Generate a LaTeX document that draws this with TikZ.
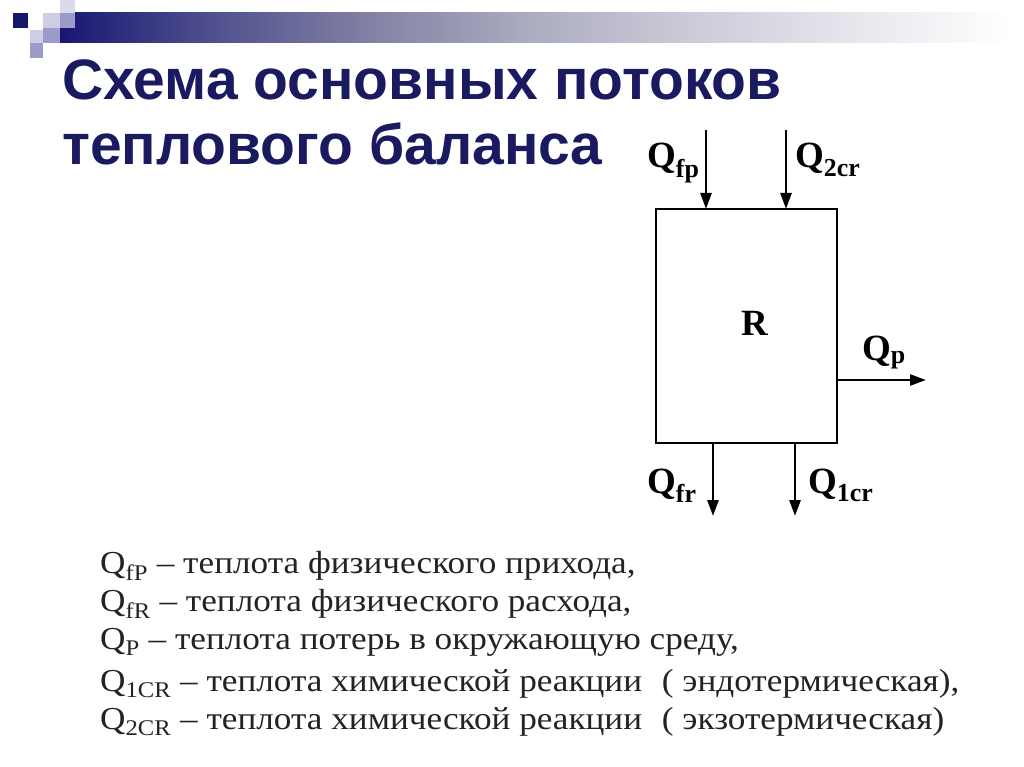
\documentclass[tikz,border=0pt]{standalone}
\usepackage{fontspec}
\setmainfont{Liberation Serif}
\newfontfamily\titlefont{Liberation Sans}
\usetikzlibrary{arrows.meta}
\definecolor{navy}{RGB}{22,22,110}
\definecolor{titleblue}{RGB}{26,26,96}
\definecolor{lav1}{RGB}{205,205,228}
\definecolor{lav2}{RGB}{155,155,200}
\definecolor{lav3}{RGB}{218,218,236}
\definecolor{legendgray}{RGB}{35,35,35}
\pgfdeclarehorizontalshading{barshade}{100bp}{
  rgb(0bp)=(0.09,0.09,0.45);
  rgb(25bp)=(0.09,0.09,0.45);
  rgb(32.5bp)=(0.30,0.30,0.55);
  rgb(41bp)=(0.50,0.50,0.64);
  rgb(50bp)=(0.68,0.68,0.76);
  rgb(60bp)=(0.82,0.82,0.87);
  rgb(69bp)=(0.93,0.93,0.95);
  rgb(75bp)=(1,1,1);
  rgb(100bp)=(1,1,1)}
\tikzset{
  flow/.style={line width=2.6pt,-{Triangle[length=16pt,width=11pt]}},
  lbl/.style={font=\fontsize{37}{40}\selectfont\bfseries, inner sep=0pt},
  legend/.style={anchor=base west, font=\fontsize{32}{36}\selectfont, text=legendgray, inner sep=0pt},
  ttl/.style={anchor=base west, font=\titlefont\bfseries\fontsize{57}{64}\selectfont, text=titleblue, inner sep=0pt}
}
\newcommand{\sbs}[1]{\textsubscript{#1}}
\newcommand{\lgx}[1]{\scalebox{1.1}[1]{#1}}
\begin{document}
\begin{tikzpicture}[x=1pt,y=-1pt]
\useasboundingbox (0,0) rectangle (1024,767);
\fill[white] (0,0) rectangle (1024,767);
% header bar
\shade[shading=barshade] (60,13) rectangle (1010,43);
% decorative squares
\fill[navy] (13,13) rectangle (28,28);
\fill[lav1] (43,13) rectangle (60,28);
\fill[lav3] (60,0) rectangle (75,13);
\fill[lav2] (60,13) rectangle (75,28);
\fill[lav1] (30,30) rectangle (43,43);
\fill[lav2] (43,28) rectangle (60,43);
\fill[lav2] (30,43) rectangle (43,58);
% title
\node[ttl] (t1) at (62,100) {Схема основных потоков};
\node[ttl] (t2) at (62,165) {теплового баланса};
% reactor box
\node[draw, line width=2.8pt, minimum width=181pt, minimum height=234pt, inner sep=0pt] (box) at (746.5,326) {};
\node[lbl] (R) at (755,323) {R};
% coordinates for arrows
\coordinate (fpTop) at (706,130);
\coordinate (crTop) at (786,130);
\coordinate (fpEnd) at (706,209);
\coordinate (crEnd) at (786,209);
\coordinate (frStart) at (713,443);
\coordinate (frEnd) at (713,516);
\coordinate (lcStart) at (795,443);
\coordinate (lcEnd) at (795,516);
\coordinate (pStart) at (837,380);
\coordinate (pEnd) at (926,380);
\draw[flow] (fpTop) -- (fpEnd);
\draw[flow] (crTop) -- (crEnd);
\draw[flow] (frStart) -- (frEnd);
\draw[flow] (lcStart) -- (lcEnd);
\draw[flow] (pStart) -- (pEnd);
% labels
\node[lbl, anchor=base west] (qfp) at (647,168) {Q\sbs{fp}};
\node[lbl, anchor=base west] (q2cr) at (795,168) {Q\sbs{2cr}};
\node[lbl, anchor=base west] (qp) at (862,360) {Q\sbs{p}};
\node[lbl, anchor=base west] (qfr) at (647,493) {Q\sbs{fr}};
\node[lbl, anchor=base west] (q1cr) at (808,493) {Q\sbs{1cr}};
% legend
\node[legend] (l1) at (100,573) {\lgx{Q\sbs{fP} – теплота физического прихода,}};
\node[legend] (l2) at (100,611) {\lgx{Q\sbs{fR} – теплота физического расхода,}};
\node[legend] (l3) at (100,649) {\lgx{Q\sbs{P} – теплота потерь в окружающую среду,}};
\node[legend] (l4) at (100,691) {\lgx{Q\sbs{1CR} – теплота химической реакции\hspace{18pt}( эндотермическая),}};
\node[legend] (l5) at (100,729) {\lgx{Q\sbs{2CR} – теплота химической реакции\hspace{18pt}( экзотермическая)}};
\end{tikzpicture}
\end{document}
